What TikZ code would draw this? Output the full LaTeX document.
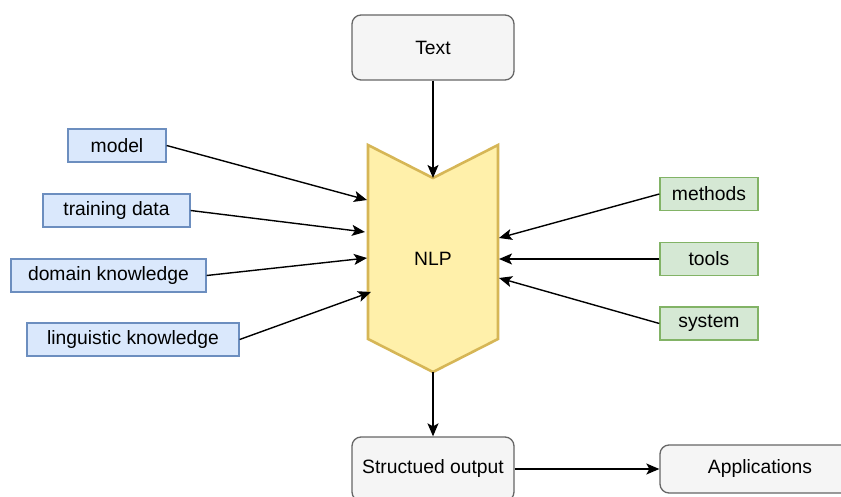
\documentclass[tikz,border=0pt]{standalone}
\usepackage{fontspec}
\setmainfont{Liberation Sans}
\usetikzlibrary{arrows.meta}
\definecolor{bluefill}{HTML}{DAE8FC}
\definecolor{blueline}{HTML}{6C8EBF}
\definecolor{greenfill}{HTML}{D5E8D4}
\definecolor{greenline}{HTML}{82B366}
\definecolor{yelfill}{HTML}{FFF0AA}
\definecolor{yelline}{HTML}{D6B656}
\definecolor{grayfill}{HTML}{F5F5F5}
\definecolor{grayline}{HTML}{666666}
\begin{document}
\begin{tikzpicture}[x=1pt,y=-1pt,
  every node/.style={font=\fontsize{19.3}{23}\selectfont, inner sep=0pt},
  bluebox/.style={draw=blueline, fill=bluefill, line width=1.3pt, rectangle},
  greenbox/.style={draw=greenline, fill=greenfill, line width=1.3pt, rectangle, minimum width=98pt, minimum height=33pt},
  graybox/.style={draw=grayline, fill=grayfill, line width=1.3pt, rectangle, rounded corners=9pt},
  conn/.style={line width=1.4pt, -{Stealth[length=13pt,width=11pt,inset=3pt]}}
]
\useasboundingbox (0,0) rectangle (841,497);
% NLP shape
\draw[draw=yelline, fill=yelfill, line width=2.6pt, line join=miter]
  (368,145) -- (433,178) -- (498,145) -- (498,339) -- (433,372) -- (368,339) -- cycle;
\node (nlp) at (433,259) {NLP};
\coordinate (notch) at (433,178);
\coordinate (nlpbot) at (433,372);
\coordinate (l1) at (367,200);
\coordinate (l2) at (365,232);
\coordinate (l3) at (367,258);
\coordinate (l4) at (371,292);
\coordinate (r1) at (499,238);
\coordinate (r2) at (499,259);
\coordinate (r3) at (499,278);

\node[graybox, minimum width=162pt, minimum height=65pt] (text) at (433,47.5) {Text};
\node[graybox, minimum width=162pt, minimum height=64pt] (out) at (433,469) {Structued output};
\node[graybox, minimum width=200pt, minimum height=48pt] (app) at (760,469) {Applications};

\node[bluebox, minimum width=98pt, minimum height=33pt] (model) at (117,145.5) {model};
\node[bluebox, minimum width=147pt, minimum height=33pt] (train) at (116.5,210.5) {training data};
\node[bluebox, minimum width=195pt, minimum height=33pt] (domain) at (108.5,275.5) {domain knowledge};
\node[bluebox, minimum width=212pt, minimum height=33pt] (ling) at (133,339.5) {linguistic knowledge};

\node[greenbox] (methods) at (709,194) {methods};
\node[greenbox] (tools) at (709,259) {tools};
\node[greenbox] (system) at (709,323.5) {system};

\draw[conn] (text) -- (notch);
\draw[conn] (model.east) -- (l1);
\draw[conn] (train.east) -- (l2);
\draw[conn] (domain.east) -- (l3);
\draw[conn] (ling.east) -- (l4);
\draw[conn] (methods.west) -- (r1);
\draw[conn] (tools.west) -- (r2);
\draw[conn] (system.west) -- (r3);
\draw[conn] (nlpbot) -- (out);
\draw[conn] (out) -- (app);
\end{tikzpicture}
\end{document}
